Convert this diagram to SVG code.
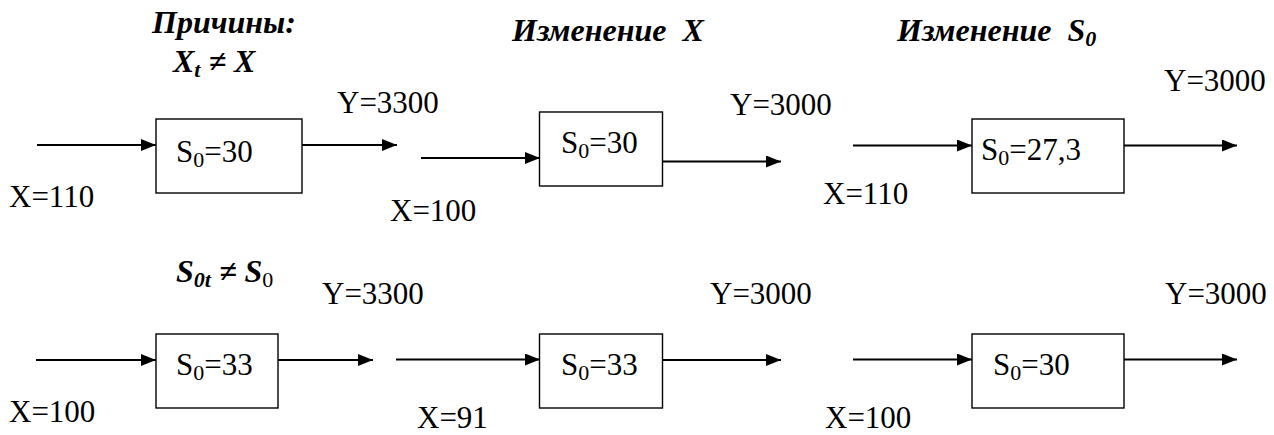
<svg xmlns="http://www.w3.org/2000/svg" width="1274" height="435" viewBox="0 0 1274 435">
<style>
.lbl{font-family:'Liberation Serif','Times New Roman',Tinos,'DejaVu Serif',serif;font-size:31px;fill:#000}
.ttl{font-family:'Liberation Serif','Times New Roman',Tinos,'DejaVu Serif',serif;font-size:32px;font-weight:bold;font-style:italic;fill:#000}
.sub{font-size:22px}
.box{fill:#fff;stroke:#000;stroke-width:1.4}
.conn{stroke:#000;stroke-width:2;fill:none;marker-end:url(#ah)}
</style>
<defs>
<marker id="ah" markerUnits="userSpaceOnUse" markerWidth="16" markerHeight="13" refX="15" refY="6" orient="auto">
<path d="M0,0 L15,6 L0,12 Z" fill="#000"/>
</marker>
</defs>
<rect x="0" y="0" width="1274" height="435" fill="#fff"/>

<g id="titles">
<text class="ttl" x="152" y="33">Причины:</text>
<text class="ttl" x="173" y="72">X<tspan class="sub" dy="5">t</tspan><tspan dy="-5"> ≠ X</tspan></text>
<text class="ttl" x="512" y="41" xml:space="preserve">Изменение  X</text>
<text class="ttl" x="897" y="41" xml:space="preserve">Изменение  S<tspan class="sub" dy="5">0</tspan></text>
<text class="ttl" x="176" y="282">S<tspan class="sub" dy="5">0t</tspan><tspan dy="-5"> ≠ S</tspan><tspan class="sub" dy="5" font-weight="normal" font-style="normal">0</tspan></text>
</g>

<g id="connectors">
<line class="conn" x1="37" y1="145" x2="156" y2="145"/>
<line class="conn" x1="302" y1="145" x2="397" y2="145"/>
<line class="conn" x1="421" y1="158" x2="540" y2="158"/>
<line class="conn" x1="661" y1="161.5" x2="781" y2="161.5"/>
<line class="conn" x1="853" y1="145.5" x2="972" y2="145.5"/>
<line class="conn" x1="1116" y1="145.5" x2="1237" y2="145.5"/>
<line class="conn" x1="36" y1="360" x2="156" y2="360"/>
<line class="conn" x1="277" y1="360" x2="373" y2="360"/>
<line class="conn" x1="396" y1="359.5" x2="540" y2="359.5"/>
<line class="conn" x1="661" y1="360" x2="781" y2="360"/>
<line class="conn" x1="853" y1="359.5" x2="972" y2="359.5"/>
<line class="conn" x1="1117" y1="359.5" x2="1237" y2="359.5"/>
</g>

<g id="node1">
<rect class="box" x="156" y="119" width="146" height="74"/>
<text class="lbl" x="176" y="162">S<tspan class="sub" dy="5">0</tspan><tspan dy="-5">=30</tspan></text>
</g>
<g id="node2">
<rect class="box" x="539.5" y="112" width="123" height="74"/>
<text class="lbl" x="561" y="153">S<tspan class="sub" dy="5">0</tspan><tspan dy="-5">=30</tspan></text>
</g>
<g id="node3">
<rect class="box" x="972" y="119" width="152" height="74"/>
<text class="lbl" x="981" y="160">S<tspan class="sub" dy="5">0</tspan><tspan dy="-5">=27,3</tspan></text>
</g>
<g id="node4">
<rect class="box" x="156" y="334" width="122" height="74"/>
<text class="lbl" x="176" y="375">S<tspan class="sub" dy="5">0</tspan><tspan dy="-5">=33</tspan></text>
</g>
<g id="node5">
<rect class="box" x="539.5" y="334" width="123" height="74"/>
<text class="lbl" x="561" y="375">S<tspan class="sub" dy="5">0</tspan><tspan dy="-5">=33</tspan></text>
</g>
<g id="node6">
<rect class="box" x="972" y="334" width="152" height="74"/>
<text class="lbl" x="993" y="375">S<tspan class="sub" dy="5">0</tspan><tspan dy="-5">=30</tspan></text>
</g>

<g id="labels">
<text class="lbl" x="337" y="113">Y=3300</text>
<text class="lbl" x="9" y="207">X=110</text>
<text class="lbl" x="730" y="115">Y=3000</text>
<text class="lbl" x="390" y="221">X=100</text>
<text class="lbl" x="1164" y="91">Y=3000</text>
<text class="lbl" x="823" y="204">X=110</text>
<text class="lbl" x="322" y="304">Y=3300</text>
<text class="lbl" x="9" y="422">X=100</text>
<text class="lbl" x="710" y="304">Y=3000</text>
<text class="lbl" x="417" y="428">X=91</text>
<text class="lbl" x="1165" y="304">Y=3000</text>
<text class="lbl" x="825" y="428">X=100</text>
</g>
</svg>
